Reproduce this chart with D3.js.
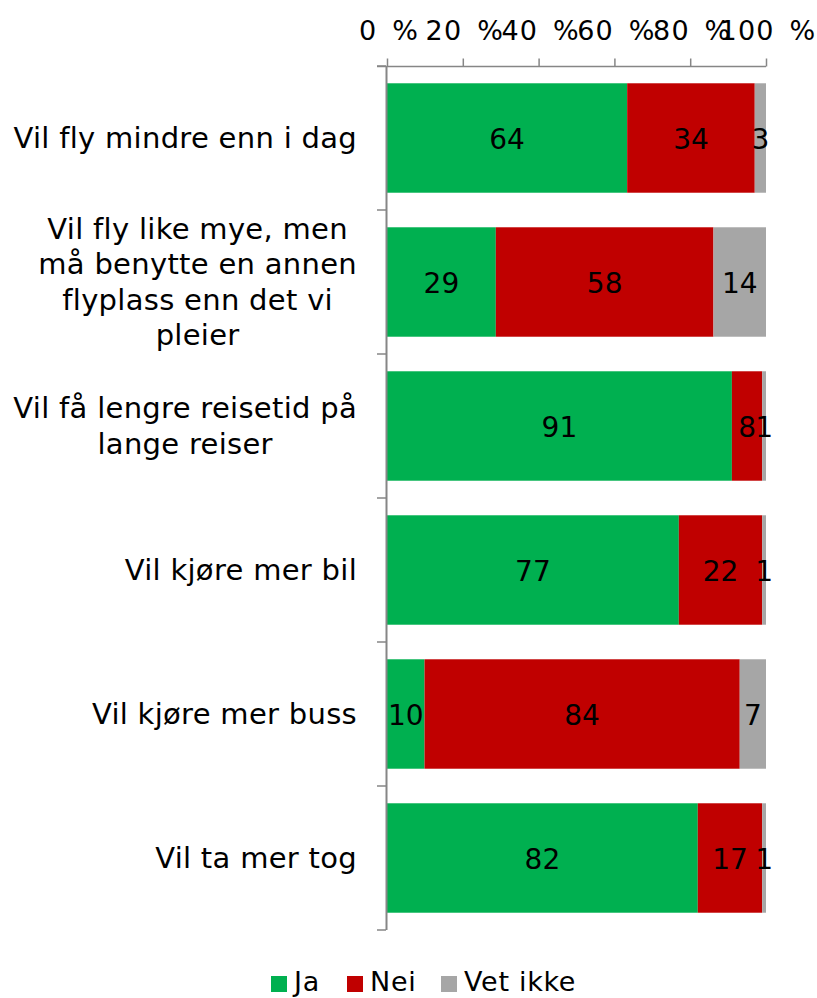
<!DOCTYPE html>
<head>
    <meta charset="utf-8">
    <script src="https://d3js.org/d3.v7.js"></script>
    <style>
        body { margin: 0; background: #fff; }
        text { font-family: "DejaVu Sans", Verdana, sans-serif; fill: #000; }
    </style>
</head>
<body>
    <svg id="chart" width="817" height="998"></svg>
    <script>
        // Data
        const categories = [
            "Vil fly mindre enn i dag",
            "Vil fly like mye, men\nmå benytte en annen\nflyplass enn det vi\npleier",
            "Vil få lengre reisetid på\nlange reiser",
            "Vil kjøre mer bil",
            "Vil kjøre mer buss",
            "Vil ta mer tog"
        ];
        const seriesNames = ["Ja", "Nei", "Vet ikke"];
        const ja = [64, 29, 91, 77, 10, 82];
        const nei = [34, 58, 8, 22, 84, 17];
        const vetIkke = [3, 14, 1, 1, 7, 1];
        const tickValues = [0, 20, 40, 60, 80, 100];
        const colors = ["#00B050", "#C00000", "#A6A6A6"];

        const svg = d3.select("svg");

        const x = d3.scaleLinear().domain([0, 100]).range([387, 766]);
        const y = d3.scaleBand().domain(categories).range([66, 930])
            .paddingInner(0.24).paddingOuter(0.12);

        // each row is shown as share of its own total (100 % stacked)
        const rows = categories.map((c, i) => {
            const vals = [ja[i], nei[i], vetIkke[i]];
            const total = d3.sum(vals);
            let acc = 0;
            return vals.map((v, k) => {
                const seg = { cat: c, value: v, k: k, x0: acc / total * 100, x1: (acc + v) / total * 100 };
                acc += v;
                return seg;
            });
        });

        // Bars
        const g = svg.append("g");
        rows.forEach(segs => {
            g.selectAll(null)
                .data(segs)
                .join("rect")
                    .attr("x", d => x(d.x0))
                    .attr("width", d => x(d.x1) - x(d.x0))
                    .attr("y", d => y(d.cat))
                    .attr("height", y.bandwidth())
                    .attr("fill", d => colors[d.k]);
            g.selectAll(null)
                .data(segs)
                .join("text")
                    .attr("x", d => (x(d.x0) + x(d.x1)) / 2)
                    .attr("y", d => y(d.cat) + y.bandwidth() / 2 + 11)
                    .attr("text-anchor", "middle")
                    .style("font-size", "28px")
                    .text(d => d.value);
        });

        // Top axis
        const axisTop = svg.append("g").attr("transform", "translate(0,66.5)")
            .call(d3.axisTop(x).tickValues(tickValues).tickSize(8).tickSizeOuter(0).tickFormat(d => d + " %"));
        axisTop.select(".domain").remove();
        axisTop.selectAll("line").attr("stroke", "#868686").attr("stroke-width", 1.5);
        axisTop.selectAll("text")
            .attr("y", -27)
            .attr("dx", "1.5")
            .style("font-size", "27px")
            .style("letter-spacing", "1.2px")
            .style("word-spacing", "5px")
            .style("font-family", "'DejaVu Sans', Verdana, sans-serif")
            .attr("fill", "#000");
        svg.append("line")
            .attr("x1", 377).attr("x2", x(100))
            .attr("y1", 66.5).attr("y2", 66.5)
            .attr("stroke", "#868686").attr("stroke-width", 1.5);

        // Left axis line and category ticks
        svg.append("line")
            .attr("x1", 386.5).attr("x2", 386.5)
            .attr("y1", 66).attr("y2", 930)
            .attr("stroke", "#868686").attr("stroke-width", 2);
        const step = y.step();
        d3.range(categories.length + 1).forEach(i => {
            svg.append("line")
                .attr("x1", 377).attr("x2", 386)
                .attr("y1", 66 + i * step).attr("y2", 66 + i * step)
                .attr("stroke", "#868686").attr("stroke-width", 1.5);
        });

        // Category labels
        const lineH = 35.5;
        categories.forEach(c => {
            const lines = c.split("\n");
            const cy = y(c) + y.bandwidth() / 2;
            const t = svg.append("text").style("font-size", "29px").style("letter-spacing", "0.3px");
            const tspans = lines.map((l, j) => t.append("tspan")
                .attr("y", cy + 10 + (j - (lines.length - 1) / 2) * lineH)
                .text(l));
            const widths = tspans.map(s => s.node().getComputedTextLength());
            const maxW = d3.max(widths);
            const center = 357 - maxW / 2;
            tspans.forEach(s => s.attr("x", center).attr("text-anchor", "middle"));
        });

        // Legend
        const legendX = [271, 347, 441];
        const legend = svg.append("g");
        seriesNames.forEach((n, i) => {
            legend.append("rect")
                .attr("x", legendX[i]).attr("y", 976)
                .attr("width", 16).attr("height", 16)
                .attr("fill", colors[i]);
            legend.append("text")
                .attr("x", legendX[i] + 23).attr("y", 991)
                .style("font-size", "27px")
                .style("letter-spacing", "0.7px")
                .text(n);
        });
    </script>
</body>
